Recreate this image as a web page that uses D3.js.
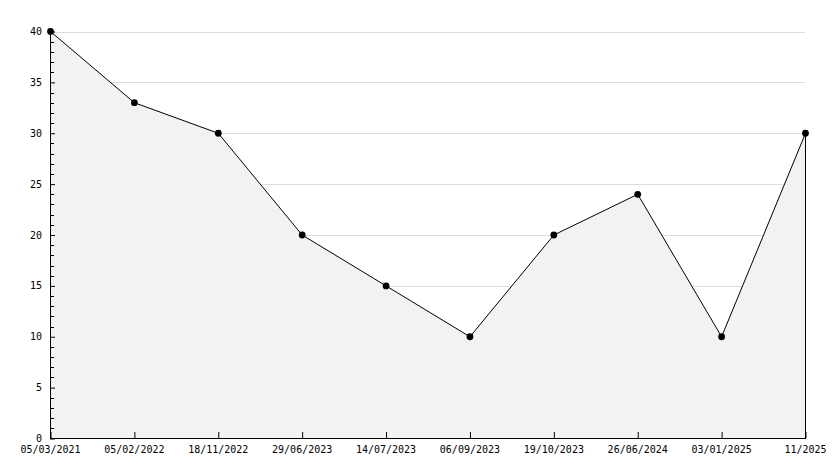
<!DOCTYPE html>
<html><head><meta charset="utf-8">
<script src="https://cdn.jsdelivr.net/npm/d3@7"></script>
<style>body{margin:0;background:#fff}svg{display:block}text{font-family:"DejaVu Sans Mono",monospace;font-size:10px;fill:#000}</style>
</head><body><svg id="c" width="834" height="468"></svg>
<script>
const categories = ["05/03/2021","05/02/2022","18/11/2022","29/06/2023","14/07/2023","06/09/2023","19/10/2023","26/06/2024","03/01/2025","11/2025"];
const values = [40,33,30,20,15,10,20,24,10,30];
const yTicks = [0,5,10,15,20,25,30,35,40];
const yMinor = d3.range(0,41,1);

const svg = d3.select("#c");
const x = d3.scalePoint().domain(categories).range([50.5,805.5]);
const y = d3.scaleLinear().domain([0,40]).range([438.5,31.5]);

// gridlines
svg.append("g").selectAll("line").data(yTicks.filter(d=>d>0)).join("line")
  .attr("x1",50).attr("x2",805).attr("y1",d=>Math.round(y(d))+0.5).attr("y2",d=>Math.round(y(d))+0.5)
  .attr("stroke","#dddddd");

// area
const data = categories.map((c,i)=>({c,v:values[i]}));
svg.append("path").datum(data)
  .attr("d",d3.area().x(d=>x(d.c)).y0(y(0)).y1(d=>y(d.v)))
  .attr("fill","#f2f2f2").attr("stroke","none");
svg.append("line").attr("x1",x(categories[categories.length-1])).attr("x2",x(categories[categories.length-1]))
  .attr("y1",y(values[values.length-1])).attr("y2",y(0)).attr("stroke","#000");
svg.append("path").datum(data)
  .attr("d",d3.line().x(d=>x(d.c)).y(d=>y(d.v)))
  .attr("fill","none").attr("stroke","#000").attr("stroke-width",1);

// y minor ticks
svg.append("g").selectAll("line").data(yMinor.filter(d=>d%5!==0)).join("line")
  .attr("x1",50).attr("x2",54).attr("y1",d=>Math.round(y(d))+0.5).attr("y2",d=>Math.round(y(d))+0.5)
  .attr("stroke","#000");

// y axis
const yAxis = d3.axisRight(y).tickValues(yTicks).tickSize(5).tickFormat("");
const gy = svg.append("g").attr("transform","translate(50,0)").call(yAxis);
gy.select(".domain").remove();
gy.selectAll(".tick line").attr("stroke","#000");
svg.append("line").attr("x1",50.5).attr("x2",50.5).attr("y1",31).attr("y2",439).attr("stroke","#000");
svg.append("g").selectAll("text").data(yTicks).join("text")
  .attr("x",42).attr("y",d=>y(d)).attr("dy","0.35em").attr("text-anchor","end").text(d=>d);

// x axis
const xAxis = d3.axisTop(x).tickSize(6).tickFormat("");
const gx = svg.append("g").attr("transform","translate(0,438)").call(xAxis);
gx.select(".domain").remove();
gx.selectAll(".tick line").attr("stroke","#000");
svg.append("line").attr("x1",50).attr("x2",806).attr("y1",438.5).attr("y2",438.5).attr("stroke","#000");
svg.append("g").selectAll("text").data(categories).join("text")
  .attr("x",d=>x(d)).attr("y",453).attr("text-anchor","middle").text(d=>d);

// markers
svg.append("g").selectAll("path").data(data).join("path")
  .attr("transform",d=>`translate(${x(d.c)},${y(d.v)})`)
  .attr("d",d3.symbol().type(d3.symbolCircle).size(36))
  .attr("fill","#000");
</script></body></html>
